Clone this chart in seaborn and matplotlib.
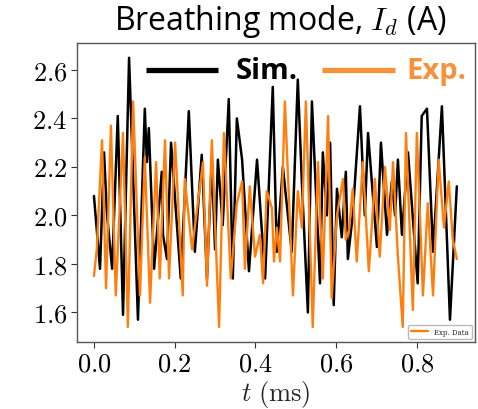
import numpy as np
import pandas as pd
import matplotlib
matplotlib.use("Agg")
import matplotlib.pyplot as plt
from matplotlib.ticker import FuncFormatter
import seaborn as sns

# ---- data ----
t_sim = [0.000, 0.015, 0.025, 0.032, 0.045, 0.059, 0.072, 0.087, 0.109, 0.126,
         0.131, 0.136, 0.149, 0.168, 0.171, 0.181, 0.191, 0.215, 0.235, 0.250,
         0.267, 0.280, 0.292, 0.300, 0.307, 0.319, 0.334, 0.344, 0.354, 0.367,
         0.384, 0.404, 0.424, 0.443, 0.453, 0.468, 0.490, 0.505, 0.515, 0.530,
         0.540, 0.560, 0.567, 0.577, 0.585, 0.594, 0.602, 0.614, 0.624, 0.629,
         0.641, 0.659, 0.671, 0.679, 0.701, 0.711, 0.726, 0.738, 0.746, 0.753,
         0.763, 0.778, 0.802, 0.812, 0.825, 0.840, 0.862, 0.882, 0.899]
i_sim = [2.08, 1.78, 2.26, 2.01, 1.78, 2.41, 1.59, 2.65, 1.57, 2.44,
         2.22, 2.36, 1.78, 2.18, 1.92, 1.82, 2.30, 1.74, 2.43, 1.85,
         2.25, 1.74, 2.23, 1.86, 2.23, 1.96, 2.48, 1.74, 2.40, 2.23,
         1.77, 2.23, 1.74, 2.53, 1.85, 2.20, 1.85, 2.56, 2.14, 1.60,
         2.47, 1.72, 2.26, 2.00, 2.30, 1.63, 2.11, 1.91, 2.18, 1.82,
         2.00, 2.45, 2.00, 2.34, 1.87, 2.30, 1.92, 2.14, 2.00, 2.23,
         1.92, 2.26, 1.72, 2.41, 2.44, 1.85, 2.45, 1.57, 2.12]

t_exp = [0.000, 0.007, 0.020, 0.030, 0.042, 0.054, 0.072, 0.084, 0.097, 0.114,
         0.126, 0.139, 0.154, 0.163, 0.176, 0.186, 0.201, 0.220, 0.225, 0.243,
         0.270, 0.280, 0.292, 0.310, 0.322, 0.339, 0.354, 0.367, 0.374, 0.386,
         0.399, 0.411, 0.419, 0.428, 0.441, 0.446, 0.453, 0.461, 0.473, 0.493,
         0.505, 0.515, 0.525, 0.542, 0.555, 0.567, 0.580, 0.589, 0.602, 0.617,
         0.624, 0.632, 0.641, 0.651, 0.666, 0.681, 0.696, 0.708, 0.721, 0.733,
         0.741, 0.753, 0.765, 0.773, 0.790, 0.800, 0.815, 0.827, 0.840, 0.854,
         0.867, 0.879, 0.889, 0.899]
i_exp = [1.75, 1.86, 2.31, 1.70, 2.37, 1.67, 2.34, 1.54, 2.47, 1.67,
         2.24, 1.64, 2.22, 1.74, 2.31, 1.74, 2.30, 1.67, 2.15, 1.86,
         2.22, 1.71, 2.31, 1.54, 2.34, 1.74, 2.05, 2.14, 1.78, 2.12,
         1.83, 1.92, 1.72, 2.10, 2.03, 1.81, 1.95, 1.81, 2.47, 1.67,
         2.10, 1.95, 2.47, 1.54, 2.22, 1.74, 2.41, 1.66, 2.00, 2.15,
         1.90, 1.94, 2.11, 1.81, 2.22, 1.77, 2.15, 1.83, 2.20, 1.94,
         2.22, 1.83, 1.54, 2.34, 1.61, 2.34, 1.67, 2.05, 1.67, 2.23,
         1.95, 2.14, 1.90, 1.82]

x_ticks = [0.0, 0.2, 0.4, 0.6, 0.8]
y_ticks = [1.6, 1.8, 2.0, 2.2, 2.4, 2.6]

title_text = r"Breathing mode, $I_d$ (A)"
xlabel_text = r"$t\ (\mathrm{ms})$"
sim_label = "Sim."
exp_label = "Exp."
legend_label = "Exp. Data"

# ---- style ----
sns.set_theme(style="ticks")
plt.rcParams["mathtext.fontset"] = "cm"
plt.rcParams["font.family"] = ["Open Sans", "DejaVu Sans"]

ORANGE = "#ff7f0e"
TXT_ORANGE = "#f7913a"

fig = plt.figure(figsize=(4.78, 4.10), dpi=100)
ax = fig.add_axes([77 / 478, 1 - 343 / 410, (475 - 77) / 478, (343 - 44) / 410])

df_sim = pd.DataFrame({"t": t_sim, "I": i_sim})
df_exp = pd.DataFrame({"t": t_exp, "I": i_exp})
sns.lineplot(data=df_sim, x="t", y="I", color="black", lw=1.8, ax=ax,
             sort=False, legend=False)
sns.lineplot(data=df_exp, x="t", y="I", color=ORANGE, lw=1.7, ax=ax,
             sort=False, label=legend_label)

ax.set_xlim(-0.042, 0.944)
ax.set_ylim(1.478, 2.711)
ax.set_xticks(x_ticks)
ax.set_yticks(y_ticks)
fmt = FuncFormatter(lambda v, p: f"${v:.1f}$")
ax.xaxis.set_major_formatter(fmt)
ax.yaxis.set_major_formatter(fmt)
ax.tick_params(labelsize=19, length=4, width=0.8, colors="#333333",
               labelcolor="black", pad=3)
ax.set_xlabel(xlabel_text, fontsize=19, labelpad=1)
ax.set_ylabel("")
for s in ax.spines.values():
    s.set_color("#555555")
    s.set_linewidth(1.0)

leg = ax.legend(loc="lower right", prop={"family": "DejaVu Serif", "size": 5},
                handlelength=2.5, frameon=True, borderpad=0.4)
leg.get_frame().set_edgecolor("#aaaaaa")

# title and annotation labels
fig.text(280 / 478, 1 - 22 / 410, title_text, ha="center", va="center",
         fontsize=23, color="black")
fig.add_artist(plt.Line2D([146 / 478, 218 / 478], [1 - 71 / 410, 1 - 71 / 410],
                          color="black", lw=3.8, solid_capstyle="butt"))
fig.text(236 / 478, 1 - 72 / 410, sim_label, ha="left", va="center",
         fontsize=21, fontweight="bold", color="black")
fig.add_artist(plt.Line2D([322 / 478, 395 / 478], [1 - 71 / 410, 1 - 71 / 410],
                          color=TXT_ORANGE, lw=3.8, solid_capstyle="butt"))
fig.text(406 / 478, 1 - 72 / 410, exp_label, ha="left", va="center",
         fontsize=21, fontweight="bold", color=TXT_ORANGE)

fig.savefig("out.png", dpi=100)
